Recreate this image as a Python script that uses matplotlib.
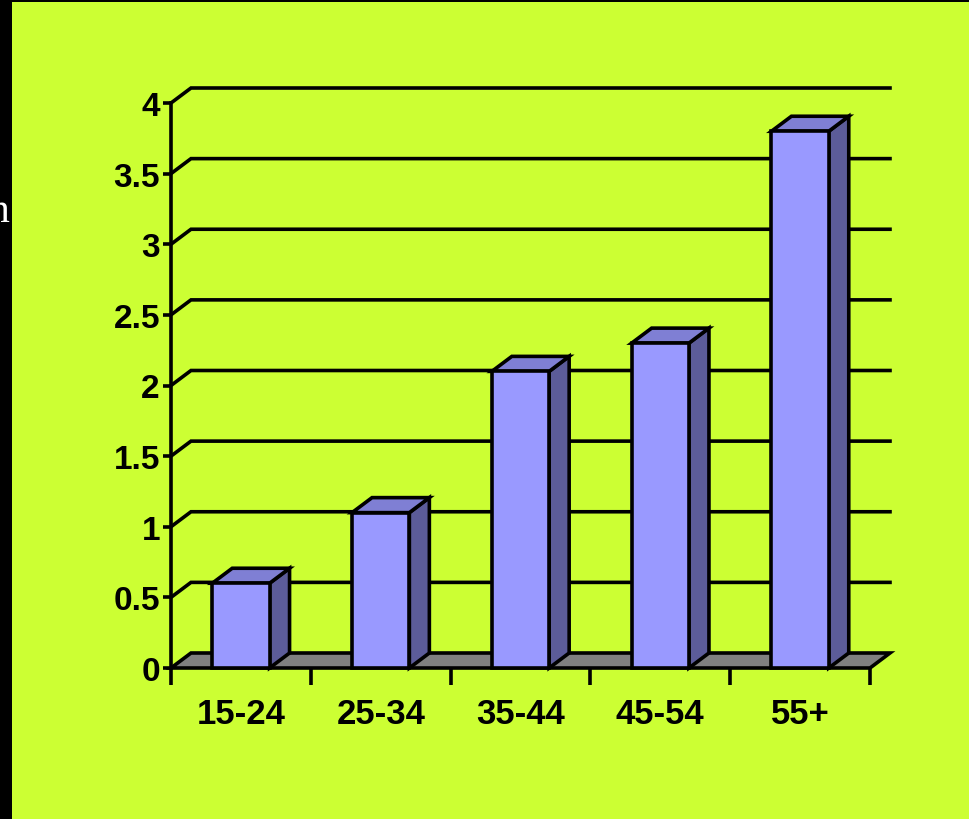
import matplotlib
matplotlib.use("Agg")
import matplotlib.pyplot as plt
from matplotlib.patches import Polygon, Rectangle

# Data
categories = ["15-24", "25-34", "35-44", "45-54", "55+"]
values = [0.6, 1.1, 2.1, 2.3, 3.8]
y_ticks = [0, 0.5, 1, 1.5, 2, 2.5, 3, 3.5, 4]
y_tick_labels = ["0", "0.5", "1", "1.5", "2", "2.5", "3", "3.5", "4"]

# Styling
W, H, DPI = 969, 820, 100
panel_color = "#CCFF33"
front_color = "#9999FF"
top_color = "#7F7FD4"
side_color = "#5C5C99"
floor_color = "#808080"
lw = 2.6
bar_width = 0.41
depth_x_px, depth_y_px = 20, 15

plt.rcParams["font.family"] = ["Liberation Sans", "DejaVu Sans"]

fig = plt.figure(figsize=(W / DPI, H / DPI), dpi=DPI, facecolor="black")

# Slide panel
fig.patches.append(Rectangle((12 / W, 0), 1 - 12 / W, (H - 3) / H,
                             transform=fig.transFigure, facecolor=panel_color,
                             edgecolor="none", zorder=-5))
fig.text(10 / W, 1 - 222 / H, "n", ha="right", va="baseline", fontsize=30,
         family="Liberation Serif", color="white")

left_px, right_px = 171, 870
y0_px, y4_px = 669, 104
ax = fig.add_axes([left_px / W, (H - y0_px) / H,
                   (right_px - left_px) / W, (y0_px - y4_px) / H])
ax.set_zorder(2)
ax.set_facecolor("none")
n = len(categories)
ax.set_xlim(0, n)
ax.set_ylim(0, 4)

# depth offset in data units
dx = depth_x_px / (right_px - left_px) * n
dy = depth_y_px / (y0_px - y4_px) * 4

for s in ["top", "right", "bottom"]:
    ax.spines[s].set_visible(False)
ax.spines["left"].set_linewidth(lw)
ax.spines["left"].set_color("black")

ax.set_yticks(y_ticks)
ax.set_yticklabels(y_tick_labels)
ax.tick_params(axis="y", length=6, width=lw, pad=2, labelsize=24,
               colors="black")
for t in ax.get_yticklabels():
    t.set_fontweight("bold")

ax.set_xticks(range(n + 1))
ax.set_xticklabels([])
ax.tick_params(axis="x", which="major", length=12, width=lw, direction="out")
ax.set_xticks([i + 0.5 for i in range(n)], minor=True)
ax.set_xticklabels(categories, minor=True, fontsize=25, fontweight="bold")
ax.tick_params(axis="x", which="minor", length=0, pad=21)

# Floor
ax.add_patch(Polygon([(0, 0), (n, 0), (n + dx, dy), (dx, dy)], closed=True,
                     facecolor=floor_color, edgecolor="black", linewidth=lw,
                     joinstyle="miter", clip_on=False, zorder=2))

# Back-wall gridlines with left side-wall diagonals
for v in y_ticks[1:]:
    ax.plot([0, dx, n + dx], [v, v + dy, v + dy], color="black",
            linewidth=lw, clip_on=False, zorder=1, solid_joinstyle="miter")

# 3D columns
for i, v in enumerate(values):
    x0 = i + 0.5 - bar_width / 2
    x1 = i + 0.5 + bar_width / 2
    ax.add_patch(Polygon([(x1, 0), (x1 + dx, dy), (x1 + dx, v + dy), (x1, v)],
                         closed=True, facecolor=side_color, edgecolor="black",
                         linewidth=lw, clip_on=False, zorder=3))
    ax.add_patch(Polygon([(x0, v), (x1, v), (x1 + dx, v + dy), (x0 + dx, v + dy)],
                         closed=True, facecolor=top_color, edgecolor="black",
                         linewidth=lw, clip_on=False, zorder=3))
    ax.add_patch(Rectangle((x0, 0), x1 - x0, v, facecolor=front_color,
                           edgecolor="black", linewidth=lw, clip_on=False,
                           zorder=4))

fig.savefig("out.png", dpi=DPI, facecolor=fig.get_facecolor())
